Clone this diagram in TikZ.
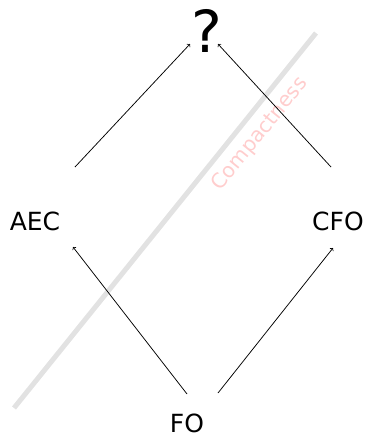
\documentclass[tikz,border=0pt]{standalone}
\usepackage{fontspec}
\setmainfont{DejaVu Sans}
\usetikzlibrary{calc}
\definecolor{bandgray}{RGB}{226,226,226}
\definecolor{softpink}{RGB}{255,205,205}
\tikzset{
  lbl/.style={inner sep=0pt, font=\fontsize{25}{30}\selectfont},
  arr/.style={->, line width=0.75pt},
  band/.style={line width=5pt, draw=bandgray},
}
\begin{document}
\begin{tikzpicture}[x=1pt, y=-1pt]
\useasboundingbox (0,0) rectangle (366,437);
% grey separating band and its label
\draw[band] (14,408) -- (316,33);
\node[text=softpink, inner sep=0pt, rotate=51, font=\fontsize{20.5}{22}\selectfont] (cmp) at (260,134) {Compactness};
% lattice of logics
\node[lbl, font=\fontsize{58}{60}\selectfont] (top) at (207,31) {?};
\node[lbl] (aec) at (35,221) {AEC};
\node[lbl] (cfo) at (338,221) {CFO};
\node[lbl] (fo) at (187,423) {FO};
% inclusions
\draw[arr] ($(fo)+(0,-29)$) -- ($(aec)+(38,26)$);
\draw[arr] ($(fo)+(31,-30)$) -- ($(cfo)+(-5,27)$);
\draw[arr] ($(aec)+(40,-54)$) -- ($(top)+(-17,13)$);
\draw[arr] ($(cfo)+(-7,-54)$) -- ($(top)+(11,13)$);
\end{tikzpicture}
\end{document}
